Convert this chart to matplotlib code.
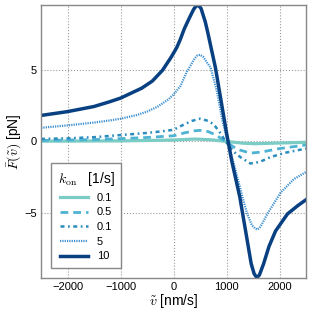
import numpy as np
import matplotlib
matplotlib.use('Agg')
import matplotlib.pyplot as plt

plt.rcParams['font.family'] = ['Liberation Sans', 'DejaVu Sans']
plt.rcParams['mathtext.fontset'] = 'cm'

# v [nm/s], F [pN]
v_a = [-2500, -1000, 0, 400, 700, 1000, 1300, 1550, 1900, 2500]
F_a = [0.02, 0.04, 0.1, 0.17, 0.12, 0.0, -0.12, -0.16, -0.12, -0.06]

v_b = [-2500, -2000, -1500, -1000, -500, 0, 200, 400, 500, 650, 800,
       1000, 1200, 1450, 1650, 2000, 2500]
F_b = [0.07, 0.1, 0.13, 0.2, 0.28, 0.4, 0.6, 0.75, 0.78, 0.7, 0.45,
       -0.05, -0.55, -0.82, -0.75, -0.5, -0.25]

v_c = [-2500, -2000, -1500, -1000, -500, -200, 0, 200, 350, 500, 650,
       760, 880, 1000, 1130, 1260, 1450, 1620, 1830, 2100, 2500]
F_c = [0.18, 0.22, 0.3, 0.45, 0.6, 0.72, 0.82, 1.2, 1.45, 1.6, 1.45,
       1.2, 0.6, -0.1, -0.7, -1.1, -1.55, -1.45, -1.1, -0.8, -0.5]

v_d = [-2500, -2000, -1500, -1200, -1000, -700, -500, -300, -100, 0, 130,
       250, 330, 400, 450, 500, 560, 640, 700, 820, 920, 1000, 1140, 1300,
       1390, 1480, 1540, 1580, 1620, 1670, 1770, 2020, 2270, 2500]
F_d = [0.96, 1.13, 1.33, 1.48, 1.6, 1.85, 2.1, 2.45, 2.95, 3.3, 3.9,
       4.9, 5.4, 5.85, 6.05, 6.1, 5.95, 5.5, 5.2, 3.5, 1.5, 0.3, -1.6, -3.9,
       -5.1, -5.9, -6.12, -6.2, -6.1, -5.8, -5.1, -3.6, -2.65, -2.15]

v_e = [-2500, -2000, -1500, -1200, -1000, -800, -600, -400, -210, -50, 60, 130,
       200, 300, 380, 420, 450, 480, 520, 600, 650, 790, 895, 1000, 1100, 1250,
       1360, 1465, 1520, 1570, 1620, 1650, 1700, 1800, 1925, 2150, 2350, 2500]
F_e = [1.83, 2.1, 2.46, 2.8, 3.05, 3.4, 3.75, 4.25, 5.0, 5.9, 6.6, 7.2,
       7.9, 8.7, 9.3, 9.5, 9.58, 9.55, 9.35, 8.4, 7.6, 5.2, 2.9, 0.6, -1.4, -3.9,
       -6.3, -8.6, -9.3, -9.58, -9.4, -9.1, -8.6, -7.4, -6.3, -5.1, -4.5, -4.1]

labels = ['0.1', '0.5', '0.1', '5', '10']

fig = plt.figure(figsize=(3.11, 3.14), dpi=100)
ax = fig.add_axes([0.132, 0.115, 0.852, 0.869])

ax.plot(v_a, F_a, color='#7bccc4', lw=2.3, label=labels[0])
ax.plot(v_b, F_b, color='#4eb3d3', lw=2.0, ls=(0, (2.8, 1.8)), label=labels[1])
ax.plot(v_c, F_c, color='#2b8cbe', lw=1.8, ls=(0, (1.6, 1.4, 0.7, 1.4)),
        label=labels[2])
ax.plot(v_d, F_d, color='#3b8fd0', lw=1.6, ls=(0, (0.55, 0.5)), label=labels[3])
ax.plot(v_e, F_e, color='#084081', lw=2.5, label=labels[4])

ax.set_xlim(-2500, 2500)
ax.set_ylim(-9.6, 9.6)
ax.set_xticks([-2000, -1000, 0, 1000, 2000])
ax.set_yticks([-5, 0, 5])
ax.tick_params(length=0, labelsize=8, pad=3)
ax.grid(True, ls=':', color='#999999', lw=0.8)
for s in ax.spines.values():
    s.set_color('#888888')
    s.set_linewidth(1.0)

ax.set_xlabel(r'$\tilde{v}$ [nm/s]', fontsize=10, labelpad=0)
ax.set_ylabel(r'$\bar{F}(\tilde{v})$ [pN]', fontsize=10, labelpad=1)

leg = ax.legend(title=r'$k_\mathrm{on}$   [1/s]', loc='lower left',
                bbox_to_anchor=(0.037, 0.036), borderaxespad=0,
                fontsize=8, title_fontsize=10, fancybox=False,
                handlelength=2.5, labelspacing=0.42, borderpad=0.6,
                framealpha=1)
leg.get_frame().set_edgecolor('#888888')
leg.get_frame().set_linewidth(1.0)

fig.savefig('out.png', dpi=100)
